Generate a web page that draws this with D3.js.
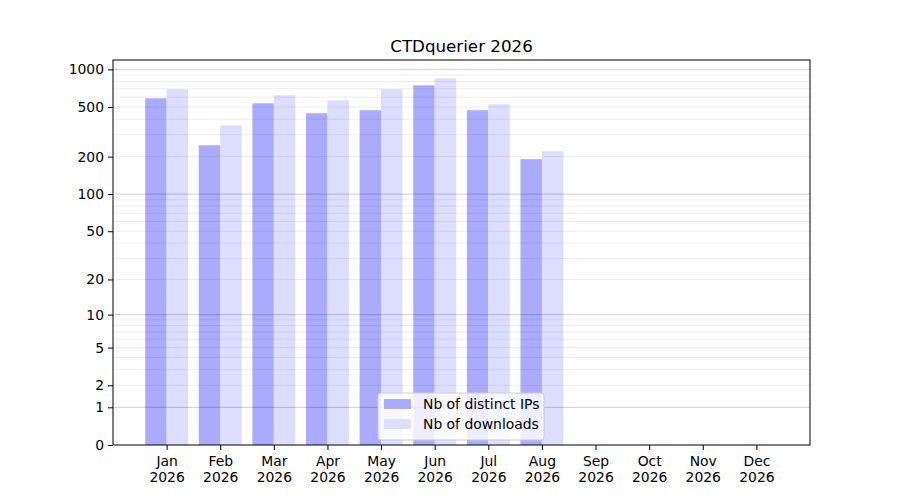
<!DOCTYPE html>
<html>
<head>
<meta charset="utf-8">
<script src="https://cdn.jsdelivr.net/npm/d3@7"></script>
<style>
  body { margin: 0; background: #fff; }
  svg text { font-family: "DejaVu Sans", sans-serif; fill: #000; }
</style>
</head>
<body>
<div id="chart"></div>
<script>
const months = ["Jan", "Feb", "Mar", "Apr", "May", "Jun", "Jul", "Aug", "Sep", "Oct", "Nov", "Dec"];
const year = "2026";
const distinctIPs = [587, 247, 535, 446, 471, 746, 471, 191];
const downloads = [693, 357, 620, 566, 693, 848, 526, 221];
const yTicks = [0, 1, 2, 5, 10, 20, 50, 100, 200, 500, 1000];
const seriesNames = ["Nb of distinct IPs", "Nb of downloads"];
const seriesColors = ["#aaaaff", "#ddddff"];

const containerWidth = 900,
  containerHeight = 500,
  margin = { top: 60, right: 90, bottom: 55, left: 113 },
  width = containerWidth - margin.left - margin.right,
  height = containerHeight - margin.top - margin.bottom;

const svg = d3.select("#chart").append("svg")
  .attr("width", containerWidth)
  .attr("height", containerHeight);

const graph = svg.append("g")
  .attr("transform", `translate(${margin.left}, ${margin.top})`);

// x: month index, one month of padding on each side
const xScale = d3.scaleLinear().domain([-1, 12]).range([0, width]);
const barW = xScale(0.4) - xScale(0);

// y: symlog (log10(1 + v)), 5% headroom like matplotlib
const maxVal = d3.max(downloads.concat(distinctIPs));
const yTop = Math.expm1(1.05 * Math.log1p(maxVal));
const yScale = d3.scaleSymlog().constant(1).domain([0, yTop]).range([height, 0]);

// bars
graph.append("g").selectAll("rect")
  .data(distinctIPs)
  .enter().append("rect")
  .attr("x", (d, i) => xScale(i) - barW)
  .attr("y", d => yScale(d))
  .attr("width", barW)
  .attr("height", d => height - yScale(d))
  .attr("fill", seriesColors[0]);

graph.append("g").selectAll("rect")
  .data(downloads)
  .enter().append("rect")
  .attr("x", (d, i) => xScale(i))
  .attr("y", d => yScale(d))
  .attr("width", barW)
  .attr("height", d => height - yScale(d))
  .attr("fill", seriesColors[1]);

// grid (drawn above the bars)
const minorGrid = [];
[1, 10, 100].forEach(dec => {
  for (let m = 2; m <= 9; m++) minorGrid.push(m * dec);
});
const majorGrid = [1, 10, 100, 1000];

graph.append("g").selectAll("line")
  .data(minorGrid.filter(v => v <= yTop))
  .enter().append("line")
  .attr("x1", 0).attr("x2", width)
  .attr("y1", d => yScale(d)).attr("y2", d => yScale(d))
  .attr("stroke", "#000").attr("stroke-opacity", 0.07).attr("stroke-width", 1);

graph.append("g").selectAll("line")
  .data(majorGrid)
  .enter().append("line")
  .attr("x1", 0).attr("x2", width)
  .attr("y1", d => yScale(d)).attr("y2", d => yScale(d))
  .attr("stroke", "#000").attr("stroke-opacity", 0.2).attr("stroke-width", 1);

// axes
const yAxis = d3.axisLeft(yScale).tickValues(yTicks).tickSize(5).tickPadding(4).tickFormat(d3.format("d"));
const yAxisGroup = graph.append("g").call(yAxis);
yAxisGroup.select(".domain").remove();
yAxisGroup.selectAll("text").attr("font-size", "13.9px");

const xAxis = d3.axisBottom(xScale).tickValues(d3.range(12)).tickSize(5).tickFormat("");
const xAxisGroup = graph.append("g")
  .attr("transform", `translate(0, ${height})`)
  .call(xAxis);
xAxisGroup.select(".domain").remove();

// two-line month labels
xAxisGroup.selectAll(".tick").each(function (d) {
  const tick = d3.select(this);
  tick.append("text")
    .attr("text-anchor", "middle")
    .attr("font-size", "13.9px")
    .attr("y", 21)
    .text(months[d]);
  tick.append("text")
    .attr("text-anchor", "middle")
    .attr("font-size", "13.9px")
    .attr("y", 37)
    .text(year);
});

// frame
graph.append("rect")
  .attr("width", width).attr("height", height)
  .attr("fill", "none").attr("stroke", "#000").attr("stroke-width", 1);

// title
svg.append("text")
  .attr("x", margin.left + width / 2)
  .attr("y", margin.top - 8)
  .attr("text-anchor", "middle")
  .attr("font-size", "16.7px")
  .text(`CTDquerier ${year}`);

// legend
const legend = graph.append("g")
  .attr("transform", `translate(${265}, ${height - 52})`);

legend.append("rect")
  .attr("width", 166).attr("height", 47)
  .attr("rx", 3)
  .attr("fill", "#fff").attr("fill-opacity", 0.8)
  .attr("stroke", "#ccc");

const items = legend.selectAll(".legend")
  .data(seriesNames)
  .enter().append("g")
  .attr("class", "legend")
  .attr("transform", (d, i) => `translate(6, ${6 + i * 20})`);

items.append("rect")
  .attr("width", 27).attr("height", 10)
  .attr("fill", (d, i) => seriesColors[i]);

items.append("text")
  .attr("x", 39)
  .attr("y", 5)
  .attr("dy", "0.35em")
  .attr("font-size", "13.9px")
  .text(d => d);
</script>
</body>
</html>
